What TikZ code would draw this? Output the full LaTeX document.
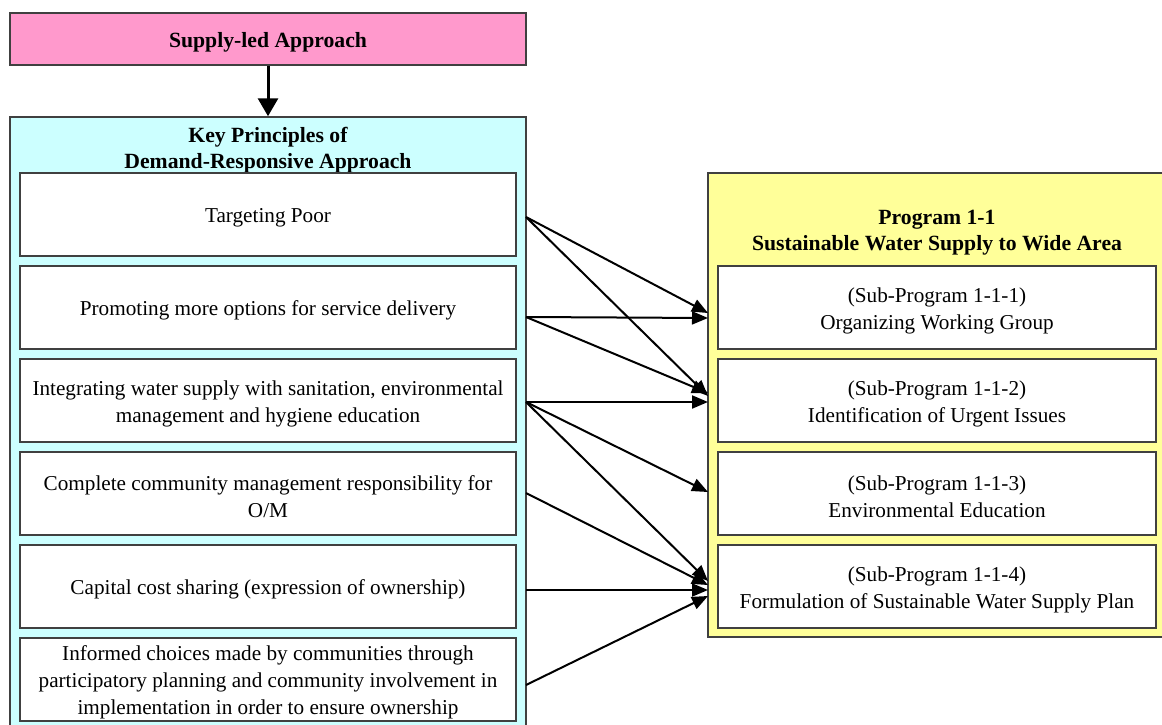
\documentclass[tikz,border=0pt]{standalone}
\usepackage{fontspec}
\setmainfont{Liberation Serif}
\usetikzlibrary{arrows.meta}
\definecolor{pinkfill}{HTML}{FF99CC}
\definecolor{cyanfill}{HTML}{CCFFFF}
\definecolor{yellowfill}{HTML}{FFFF99}
\definecolor{edgegray}{HTML}{404040}
\begin{document}
\begin{tikzpicture}[x=1pt,y=-1pt,
  frame/.style={draw=edgegray, line width=1.5pt, inner sep=0pt},
  txt/.style={align=center, inner sep=0pt, font=\fontsize{21.2}{27}\selectfont},
  ttl/.style={align=center, inner sep=0pt, font=\fontsize{21.7}{26}\selectfont\bfseries},
  item/.style={frame, fill=white, minimum width=496pt, minimum height=83pt, label={[txt, yshift=-3pt]center:#1}},
  sub/.style={frame, fill=white, minimum width=438pt, minimum height=83pt, label={[txt, yshift=-3pt]center:#1}},
  link/.style={line width=2pt, -{Triangle[length=16pt,width=13pt]}}
]
\useasboundingbox (0,0) rectangle (1162,725);
% top box
\node[frame, fill=pinkfill, minimum width=516pt, minimum height=52pt] (supply) at (268,39) {};
\node[ttl] (stitle) at (268,42) {Supply-led Approach};
% cyan container
\node[frame, fill=cyanfill, minimum width=516pt, minimum height=623pt] (cyan) at (268,428.5) {};
\node[ttl] (ktitle) at (268,150) {Key Principles of\\Demand-Responsive Approach};
\draw[line width=3pt, -{Triangle[length=18pt,width=20pt]}] (supply.south) -- (cyan.north);
% items
\node[item={Targeting Poor}] (b1) at (268,214.5) {};
\node[item={Promoting more options for service delivery}] (b2) at (268,307.5) {};
\node[item={Integrating water supply with sanitation, environmental\\management and hygiene education}] (b3) at (268,400.5) {};
\node[item={Complete community management responsibility for\\O/M}] (b4) at (268,493.5) {};
\node[item={Capital cost sharing (expression of ownership)}] (b5) at (268,586.5) {};
\node[item={Informed choices made by communities through\\participatory planning and community involvement in\\implementation in order to ensure ownership}] (b6) at (268,679.5) {};
% yellow container
\node[frame, fill=yellowfill, minimum width=462pt, minimum height=464pt] (yellow) at (939,405) {};
\node[ttl] (ptitle) at (937,233) {Program 1-1\\Sustainable Water Supply to Wide Area};
\node[sub={(Sub-Program 1-1-1)\\Organizing Working Group}] (s1) at (937,307.5) {};
\node[sub={(Sub-Program 1-1-2)\\Identification of Urgent Issues}] (s2) at (937,400.5) {};
\node[sub={(Sub-Program 1-1-3)\\Environmental Education}] (s3) at (937,493.5) {};
\node[sub={(Sub-Program 1-1-4)\\Formulation of Sustainable Water Supply Plan}] (s4) at (937,586.5) {};
% ports
\coordinate (o1) at (526,217);
\coordinate (o2) at (526,317);
\coordinate (o3) at (526,402);
\coordinate (o4) at (526,493);
\coordinate (o5) at (526,590);
\coordinate (o6) at (526,685);
\coordinate (t1a) at (708,313);
\coordinate (t1b) at (708,318);
\coordinate (t2a) at (708,396);
\coordinate (t2b) at (708,393);
\coordinate (t2c) at (708,402);
\coordinate (t3) at (708,492);
\coordinate (t4a) at (708,581);
\coordinate (t4b) at (708,585);
\coordinate (t4c) at (708,590);
\coordinate (t4d) at (708,596);
% connectors
\draw[link] (o1) -- (t1a);
\draw[link] (o1) -- (t2a);
\draw[link] (o2) -- (t1b);
\draw[link] (o2) -- (t2b);
\draw[link] (o3) -- (t2c);
\draw[link] (o3) -- (t3);
\draw[link] (o3) -- (t4a);
\draw[link] (o4) -- (t4b);
\draw[link] (o5) -- (t4c);
\draw[link] (o6) -- (t4d);
\end{tikzpicture}
\end{document}
